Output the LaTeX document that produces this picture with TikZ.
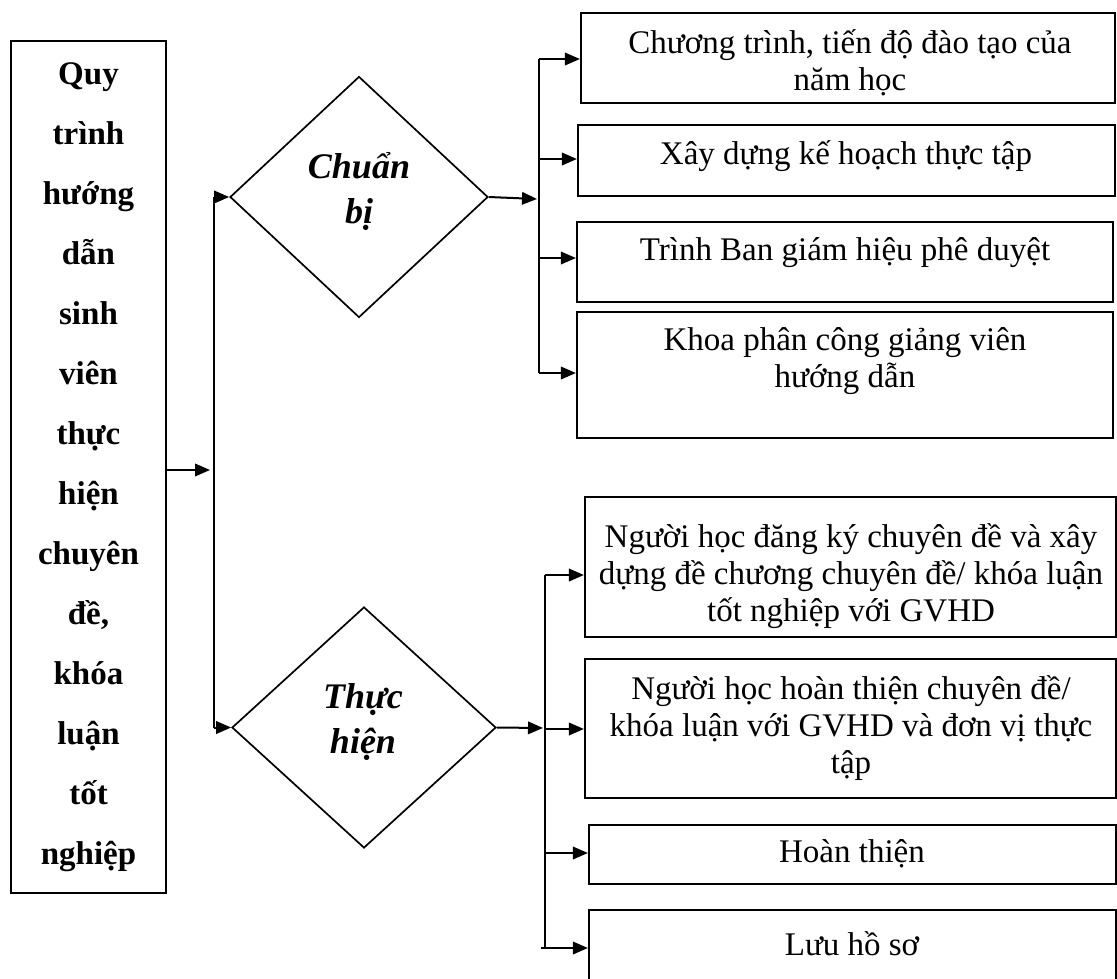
\documentclass[tikz,border=0pt]{standalone}
\usepackage{fontspec}
\setmainfont{Liberation Serif}
\usetikzlibrary{shapes.geometric,arrows.meta}
\begin{document}
\begin{tikzpicture}[x=1pt,y=-1pt,
  box/.style={draw, line width=2.2pt, inner sep=0pt, rectangle},
  btext/.style={font=\fontsize{33}{37}\selectfont, align=center, inner sep=0pt},
  dia/.style={draw, diamond, line width=1.7pt, inner sep=0pt},
  dtext/.style={font=\fontsize{36}{45}\selectfont\bfseries\itshape, align=center, inner sep=0pt},
  conn/.style={line width=2pt},
  arr/.style={line width=2pt, -{Triangle[length=15pt,width=12.5pt]}}]
\useasboundingbox (0,0) rectangle (1117,978);
% left box
\node[box, minimum width=155pt, minimum height=852pt, font=\fontsize{33}{60}\selectfont\bfseries, align=center] (lb) at (88.5,467)
 {Quy\\trình\\hướng\\dẫn\\sinh\\viên\\thực\\hiện\\chuyên\\đề,\\khóa\\luận\\tốt\\nghiệp};
% diamonds
\node[dia, minimum width=258pt, minimum height=241pt] (d1) at (359,197) {};
\node[dtext] (dt1) at (359,191) {Chuẩn\\bị};
\node[dia, minimum width=264pt, minimum height=241pt] (d2) at (364,727.5) {};
\node[dtext] (dt2) at (363,722) {Thực\\hiện};
% top boxes
\node[box, minimum width=534pt, minimum height=90pt] (b1) at (848,58) {};
\node[btext] (t1) at (850,63) {Chương trình, tiến độ đào tạo của\\năm học};
\node[box, minimum width=537pt, minimum height=71pt] (b2) at (846.5,160.5) {};
\node[btext] (t2) at (846,156) {Xây dựng kế hoạch thực tập};
\node[box, minimum width=536pt, minimum height=80pt] (b3) at (845,262) {};
\node[btext] (t3) at (845,253) {Trình Ban giám hiệu phê duyệt};
\node[box, minimum width=536pt, minimum height=126pt] (b4) at (845,375) {};
\node[btext] (t4) at (845,361) {Khoa phân công giảng viên\\hướng dẫn};
% bottom boxes
\node[box, minimum width=531pt, minimum height=140pt] (b5) at (850.5,567) {};
\node[btext] (t5) at (851,576) {Người học đăng ký chuyên đề và xây\\dựng đề chương chuyên đề/ khóa luận\\tốt nghiệp với GVHD};
\node[box, minimum width=531pt, minimum height=139pt] (b6) at (850.5,728.5) {};
\node[btext] (t6) at (851,728) {Người học hoàn thiện chuyên đề/\\khóa luận với GVHD và đơn vị thực\\tập};
\node[box, minimum width=527pt, minimum height=59pt] (b7) at (852.5,854.5) {};
\node[btext] (t7) at (852,854) {Hoàn thiện};
\node[box, minimum width=527pt, minimum height=90pt] (b8) at (852.5,955) {};
\node[btext] (t8) at (852,944) {Lưu hồ sơ};
% left connectors
\coordinate (v1t) at (214,197);
\coordinate (v1b) at (214,727.5);
\coordinate (la) at (210,470);
\draw[arr] (lb.east |- la) -- (la);
\draw[conn] (v1t) -- (v1b);
\draw[arr] (v1t) -- (d1.west);
\draw[arr] (v1b) -- (d2.west);
% top group
\coordinate (o1) at (537,199);
\draw[arr] (d1.east) -- (o1);
\coordinate (a1) at (539,59);
\coordinate (a2) at (539,159);
\coordinate (a3) at (539,258);
\coordinate (a4) at (539,373);
\draw[conn] (a1) -- (a4);
\draw[arr] (a1) -- (a1 -| b1.west);
\draw[arr] (a2) -- (a2 -| b2.west);
\draw[arr] (a3) -- (a3 -| b3.west);
\draw[arr] (a4) -- (a4 -| b4.west);
% bottom group
\coordinate (o2) at (543,728);
\draw[arr] (d2.east) -- (o2);
\coordinate (c5) at (545,575);
\coordinate (c6) at (545,729);
\coordinate (c7) at (545,853);
\coordinate (c8) at (545,948);
\draw[conn] (c5) -- (c8);
\draw[arr] (c5) -- (c5 -| b5.west);
\draw[arr] (c6) -- (c6 -| b6.west);
\draw[arr] (c7) -- (c7 -| b7.west);
\draw[arr] ([xshift=-4pt]c8) -- (c8 -| b8.west);
\end{tikzpicture}
\end{document}
